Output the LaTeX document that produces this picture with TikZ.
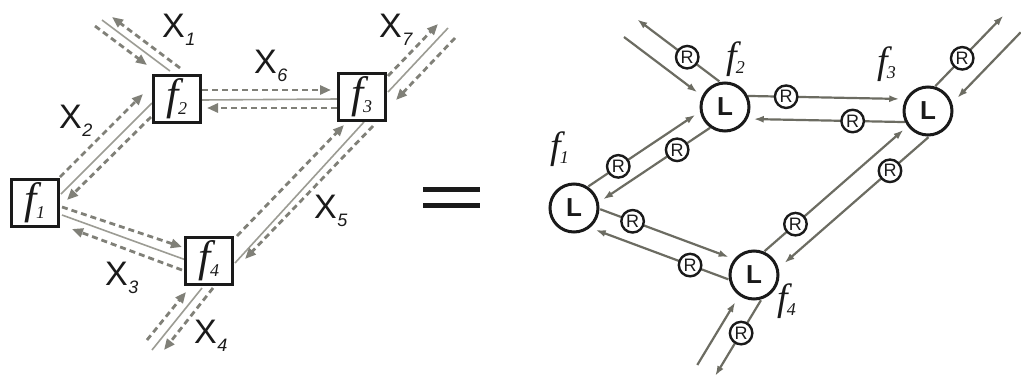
\documentclass[tikz,border=0pt]{standalone}
\usepackage{fontspec}
\setmainfont{Liberation Serif}
\setsansfont{Liberation Sans}
\usetikzlibrary{calc,arrows.meta,backgrounds}
\definecolor{dgray}{HTML}{808078}
\definecolor{sgray}{HTML}{9C9C94}
\definecolor{lgray}{HTML}{6C6C62}
\definecolor{ink}{HTML}{1A1A1A}
\newcommand\flab[3]{{\fontsize{#1}{#1}\selectfont\itshape f\kern-1pt\raisebox{-5pt}{\fontsize{#2}{#2}\selectfont #3}}}
\newcommand\xlab[1]{{\sffamily\fontsize{34}{34}\selectfont X\kern0.5pt\raisebox{-8pt}{\fontsize{18}{18}\selectfont\itshape #1}}}
\newcommand\pline[5][]{\draw[#1] ($(#2)!#4pt!90:(#3)$) -- #5 ($(#3)!#4pt!-90:(#2)$);}
\tikzset{
  fbox/.style={rectangle, draw=ink, line width=3.2pt, fill=white, minimum size=47pt, inner sep=0pt, text=ink},
  lnode/.style={circle, draw=ink, line width=3pt, fill=white, minimum size=48pt, inner sep=0pt, text=ink,
    font=\sffamily\bfseries\fontsize{26}{26}\selectfont},
  rnode/.style={circle, draw=ink, line width=2.4pt, fill=white, minimum size=22.5pt, inner sep=0pt, text=ink,
    font=\sffamily\fontsize{18}{18}\selectfont},
  lab/.style={inner sep=0pt, anchor=base west, text=ink},
  dl/.style={dgray, line width=2.8pt, dash pattern=on 6pt off 4pt, >={Triangle[length=11pt,width=9pt]}},
  sl/.style={sgray, line width=1.6pt},
  rl/.style={lgray, line width=2.2pt, >={Latex[length=10pt,width=7pt]}},
}
\begin{document}
\begin{tikzpicture}[x=1pt,y=-1pt]
\useasboundingbox (0,0) rectangle (1021,378);
% ---------- left: factor graph ----------
\node[fbox] (f1) at (35,203) {\flab{44}{18}{1}};
\node[fbox] (f2) at (177,99) {\flab{44}{18}{2}};
\node[fbox] (f3) at (362,97) {\flab{44}{18}{3}};
\node[fbox] (f4) at (209,261) {\flab{44}{18}{4}};
\coordinate (c1) at (103,20);
\coordinate (c4) at (157,345);
\coordinate (c7) at (447,30);
\node[lab] (lx1) at (162,37) {\xlab{1}};
\node[lab] (lx6) at (254,73) {\xlab{6}};
\node[lab] (lx7) at (379,37) {\xlab{7}};
\node[lab] (lx2) at (59,128) {\xlab{2}};
\node[lab] (lx5) at (314,218) {\xlab{5}};
\node[lab] (lx3) at (105,285) {\xlab{3}};
\node[lab] (lx4) at (194,343) {\xlab{4}};
% ---------- right: L / R network ----------
\node[lnode] (f1L) at (574,208) {L};
\node[lnode] (f2L) at (725,107) {L};
\node[lnode] (f3L) at (928,111) {L};
\node[lnode] (f4L) at (754,275) {L};
\coordinate (f3t) at ($(f3L)+(0,12)$);
\coordinate (e2) at (627,33);
\coordinate (e3) at (1012,24);
\coordinate (e4) at (699,366);
\node[lab] (lf1) at (550,158) {\flab{38}{18}{1}};
\node[lab] (lf2) at (726,68) {\flab{38}{18}{2}};
\node[lab] (lf3) at (877,73) {\flab{38}{18}{3}};
\node[lab] (lf4) at (777,310) {\flab{38}{18}{4}};
% equals sign
\draw[ink, line width=5pt] (423,189) -- (480,189) (423,205) -- (480,205);
\begin{scope}[on background layer]
\fill[white] (0,0) rectangle (1021,378);
% X6
\draw[dl,->] ($(f2)+(25,-9)$) -- ($(f3)+(-31,-7)$);
\draw[sl] ($(f2)+(25,1)$) -- ($(f3)+(-25,2)$);
\draw[dl,->] ($(f3)+(-25,11)$) -- ($(f2)+(30,9)$);
% X2
\draw[dl,->] ($(f1)+(25,-26)$) -- ($(f2)+(-34,-5)$);
\draw[sl] ($(f2)+(-25,4)$) -- ($(f1)+(26,-9)$);
\draw[dl,->] ($(f2)+(-26,18)$) -- ($(f1)+(32,-3)$);
% X3
\draw[dl,->] ($(f1)+(27,4)$) -- ($(f4)+(-27,-14)$);
\draw[sl] ($(f1)+(27,12)$) -- ($(f4)+(-23,-1)$);
\draw[dl,->] ($(f4)+(-27,9)$) -- ($(f1)+(37,26)$);
% X5
\draw[dl,->] ($(f4)+(28,-25)$) -- ($(f3)+(-18,28)$);
\draw[sl] ($(f3)+(2,25)$) -- ($(f4)+(26,2)$);
\draw[dl,->] ($(f3)+(11,29)$) -- ($(f4)+(36,-2)$);
% X4
\draw[dl,->] ($(c4)+(-10,-5)$) -- ($(f4)+(-23,31)$);
\draw[sl] ($(f4)+(-7,27)$) -- ($(c4)+(-5,5)$);
\draw[dl,->] ($(f4)+(4,27)$) -- ($(c4)+(7,5)$);
% X1
\draw[dl,->] ($(f2)+(3,-31)$) -- ($(c1)+(9,-3)$);
\draw[sl] ($(c1)+(-1,0)$) -- ($(f2)+(-7,-28)$);
\draw[dl,->] ($(c1)+(-8,6)$) -- ($(f2)+(-30,-34)$);
% X7
\draw[dl,->] ($(f3)+(26,-21)$) -- ($(c7)+(-9,-6)$);
\draw[sl] ($(f3)+(26,-5)$) -- ($(c7)+(1,-2)$);
\draw[dl,->] ($(c7)+(8,8)$) -- ($(f3)+(34,3)$);
% right side
\pline[rl,->,shorten <=23pt,shorten >=29pt]{f2L}{f3L}{11.5}{node[rnode,pos=0.3] (r1) {R}}
\pline[rl,->,shorten <=23pt,shorten >=29pt]{f3L}{f2L}{11.5}{node[rnode,pos=0.37] (r2) {R}}
\pline[rl,->,shorten <=24pt,shorten >=29pt]{f1L}{f2L}{10}{node[rnode,pos=0.33] (r3) {R}}
\pline[rl,->,shorten <=24pt,shorten >=29pt]{f2L}{f1L}{9}{node[rnode,pos=0.35] (r4) {R}}
\pline[rl,->,shorten <=25pt,shorten >=30pt]{f1L}{f4L}{8}{node[rnode,pos=0.31] (r5) {R}}
\pline[rl,->,shorten <=22.5pt,shorten >=28pt]{f4L}{f1L}{13}{node[rnode,pos=0.33] (r6) {R}}
\pline[rl,->,shorten <=23.6pt,shorten >=23pt]{f4L}{f3t}{11}{node[rnode,pos=0.28] (r7) {R}}
\pline[rl,<-,shorten <=31pt,shorten >=9pt]{f4L}{f3t}{-11}{node[rnode,pos=0.74] (r8) {R}}
\pline[rl,->,shorten <=20pt]{f2L}{e2}{-17}{node[rnode,pos=0.49] (r9) {R}}
\pline[rl,<-,shorten <=31pt]{f2L}{e2}{5}{}
\pline[rl,->,shorten <=23pt]{f3L}{e3}{12}{node[rnode,pos=0.51] (r10) {R}}
\pline[rl,<-,shorten <=30pt]{f3L}{e3}{-12}{}
\pline[rl,<-,shorten <=33pt]{f4L}{e4}{-2}{}
\pline[rl,->,shorten <=18pt]{f4L}{e4}{19}{node[rnode,pos=0.53] (r11) {R}}
\end{scope}
\end{tikzpicture}
\end{document}
